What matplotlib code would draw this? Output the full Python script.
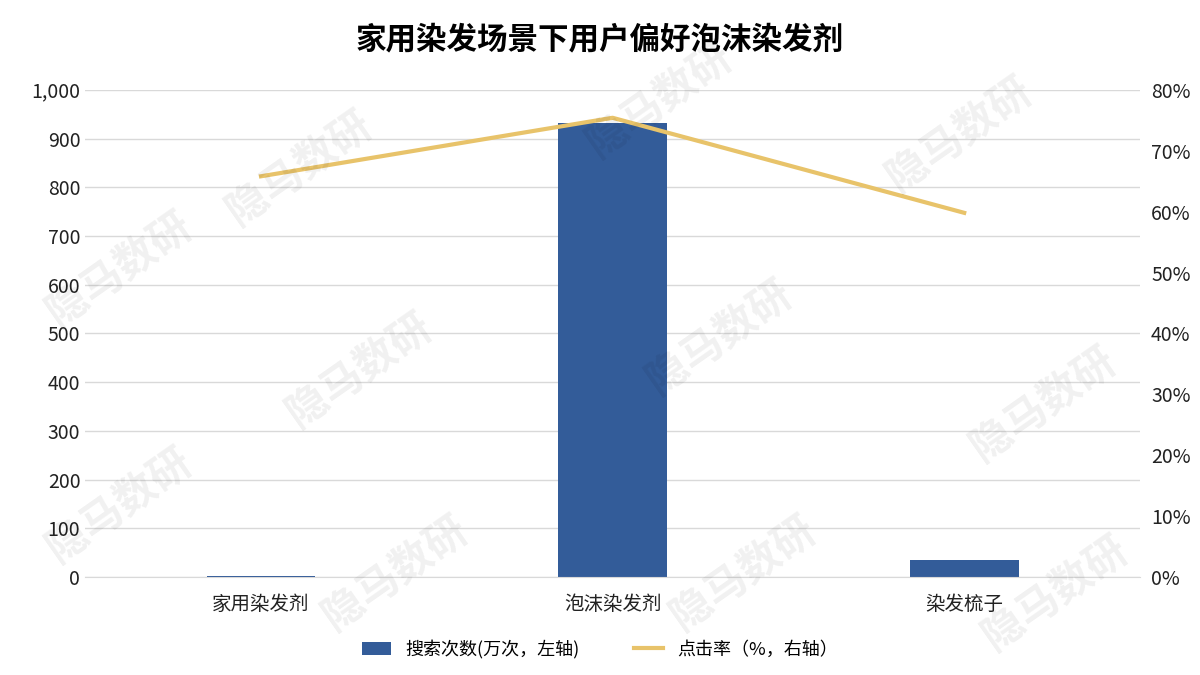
import matplotlib
matplotlib.use("Agg")
import matplotlib.pyplot as plt
from matplotlib.ticker import FuncFormatter

plt.rcParams['font.family'] = ['Noto Sans CJK SC', 'DejaVu Sans']

cats = ["家用染发剂", "泡沫染发剂", "染发梳子"]
searches = [3, 932, 35]          # 万次
ctr = [65.8, 75.4, 59.8]         # %

fig = plt.figure(figsize=(12, 6.75), dpi=100)
ax = fig.add_axes([0.071, 0.145, 0.879, 0.722])
ax2 = ax.twinx()

x = list(range(len(cats)))
ax.bar(x, searches, width=0.31, color="#335C99", label="搜索次数(万次，左轴)", zorder=2)
ax2.plot(x, ctr, color="#E8C36A", lw=3, label="点击率（%，右轴）", zorder=3)

ax.set_xlim(-0.5, 2.5)
ax.set_ylim(0, 1000)
ax.set_yticks(range(0, 1001, 100))
ax.yaxis.set_major_formatter(FuncFormatter(lambda v, p: f"{int(v):,}"))
ax2.set_ylim(0, 80)
ax2.set_yticks(range(0, 81, 10))
ax2.yaxis.set_major_formatter(FuncFormatter(lambda v, p: f"{int(v)}%"))
ax.set_xticks(x)
ax.set_xticklabels(cats)
ax.grid(axis="y", color="#D9D9D9", lw=1, zorder=0)
ax.set_axisbelow(True)
for a in (ax, ax2):
    for s in a.spines.values():
        s.set_visible(False)
    a.tick_params(length=0, labelsize=14, colors="#222222")
ax.spines["bottom"].set_visible(True)
ax.spines["bottom"].set_color("#D9D9D9")
ax.tick_params(axis="x", pad=12)
ax2.tick_params(axis="y", pad=8)

fig.suptitle("家用染发场景下用户偏好泡沫染发剂", fontsize=22, fontweight="bold", y=0.965)

h1, l1 = ax.get_legend_handles_labels()
h2, l2 = ax2.get_legend_handles_labels()
fig.legend(h1 + h2, l1 + l2, loc="lower center", ncol=2, frameon=False,
           fontsize=13, bbox_to_anchor=(0.5, 0.0), handlelength=1.6, columnspacing=3)

# faint watermark, kept inside the figure
for wx, wy in [(0.25, 0.75), (0.55, 0.85), (0.8, 0.8), (0.1, 0.6), (0.3, 0.45),
               (0.6, 0.5), (0.87, 0.4), (0.1, 0.25), (0.33, 0.15), (0.62, 0.15), (0.88, 0.12)]:
    fig.text(wx, wy, "隐马数研", fontsize=30, fontweight="bold", color="#000000",
             alpha=0.06, rotation=35, ha="center", va="center")

fig.savefig("out.png", dpi=100)
